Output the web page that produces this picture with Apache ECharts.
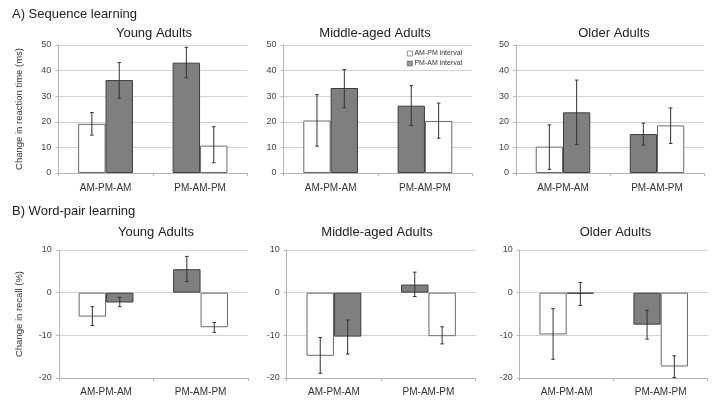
<!DOCTYPE html>
<html>
<head>
<meta charset="utf-8">
<script src="https://cdn.jsdelivr.net/npm/echarts@6/dist/echarts.min.js"></script>
<style>html,body{margin:0;padding:0;background:#fff}#c{width:714px;height:403px}</style>
</head>
<body>
<div id="c"></div>
<script>
// ---- Data ----
const categories = ['AM-PM-AM', 'PM-AM-PM'];
const legendNames = ['AM-PM interval', 'PM-AM interval'];
const panelTitles = ['Young Adults', 'Middle-aged Adults', 'Older Adults'];
const sectionTitles = ['A) Sequence learning', 'B) Word-pair learning'];
const yNames = ['Change in reaction time (ms)', 'Change in recall (%)'];
const seqTicks = [0, 10, 20, 30, 40, 50];
const wordTicks = [-20, -10, 0, 10];

// Sequence learning (ms): values per category [AM-PM-AM, PM-AM-PM]
const seqYoungAMPM = [19.2, 10.7];
const seqYoungAMPMErr = [[14.8, 23.6], [4.0, 18.1]];
const seqYoungPMAM = [36.3, 43.1];
const seqYoungPMAMErr = [[29.2, 43.2], [37.2, 49.1]];

const seqMiddleAMPM = [20.5, 20.3];
const seqMiddleAMPMErr = [[10.5, 30.6], [13.6, 27.3]];
const seqMiddlePMAM = [33.2, 26.3];
const seqMiddlePMAMErr = [[25.5, 40.4], [18.5, 34.1]];

const seqOlderAMPM = [10.3, 18.6];
const seqOlderAMPMErr = [[1.4, 18.8], [11.5, 25.4]];
const seqOlderPMAM = [23.7, 15.2];
const seqOlderPMAMErr = [[11.1, 36.3], [10.9, 19.5]];

// Word-pair learning (%)
const wordYoungAMPM = [-5.6, -8.1];
const wordYoungAMPMErr = [[-7.7, -3.3], [-9.3, -7.0]];
const wordYoungPMAM = [-2.3, 5.5];
const wordYoungPMAMErr = [[-3.3, -1.1], [2.6, 8.5]];

const wordMiddleAMPM = [-14.8, -10.2];
const wordMiddleAMPMErr = [[-18.9, -10.5], [-12.0, -8.0]];
const wordMiddlePMAM = [-10.3, 1.9];
const wordMiddlePMAMErr = [[-14.4, -6.4], [-0.9, 4.8]];

const wordOlderAMPM = [-9.8, -17.3];
const wordOlderAMPMErr = [[-15.6, -3.75], [-19.9, -14.8]];
const wordOlderPMAM = [-0.25, -7.5];
const wordOlderPMAMErr = [[-3.0, 2.4], [-10.9, -4.1]];

// ---- Layout / style ----
const WHITE = '#ffffff', GRAY = '#7f7f7f';
const BAR_FRAC = 0.29;
const FONT = '"Liberation Sans", Arial, sans-serif';

const panels = [
  {ampm: seqYoungAMPM, ampmErr: seqYoungAMPMErr, pmam: seqYoungPMAM, pmamErr: seqYoungPMAMErr, row: 0, col: 0},
  {ampm: seqMiddleAMPM, ampmErr: seqMiddleAMPMErr, pmam: seqMiddlePMAM, pmamErr: seqMiddlePMAMErr, row: 0, col: 1},
  {ampm: seqOlderAMPM, ampmErr: seqOlderAMPMErr, pmam: seqOlderPMAM, pmamErr: seqOlderPMAMErr, row: 0, col: 2},
  {ampm: wordYoungAMPM, ampmErr: wordYoungAMPMErr, pmam: wordYoungPMAM, pmamErr: wordYoungPMAMErr, row: 1, col: 0},
  {ampm: wordMiddleAMPM, ampmErr: wordMiddleAMPMErr, pmam: wordMiddlePMAM, pmamErr: wordMiddlePMAMErr, row: 1, col: 1},
  {ampm: wordOlderAMPM, ampmErr: wordOlderAMPMErr, pmam: wordOlderPMAM, pmamErr: wordOlderPMAMErr, row: 1, col: 2}
];
const gridLefts = [[58.3, 283.5, 516], [58.8, 286.7, 519.7]];
const gridWidths = [[189, 188.6, 188], [189, 189, 188]];
const gridTops = [45, 250];
const titleCenters = [[149, 370, 609], [151, 372, 610.5]];
const titleTops = [21.5, 221];

const grids = [], xAxes = [], yAxes = [], series = [], titles = [];

titles.push({text: sectionTitles[0], left: 7, top: 3, textStyle: {fontFamily: FONT, fontSize: 13, fontWeight: 'normal', color: '#222'}});
titles.push({text: sectionTitles[1], left: 7, top: 200, textStyle: {fontFamily: FONT, fontSize: 13, fontWeight: 'normal', color: '#222'}});

panels.forEach((p, i) => {
  const r = p.row, c = p.col;
  grids.push({left: gridLefts[r][c], top: gridTops[r], width: gridWidths[r][c], height: 128, containLabel: false});
  titles.push({text: panelTitles[c], left: titleCenters[r][c], top: titleTops[r], textAlign: 'center',
    textStyle: {fontFamily: FONT, fontSize: 13, fontWeight: 'normal', color: '#222'}});
  xAxes.push({type: 'category', gridIndex: i, data: categories,
    axisLine: {show: true, onZero: false, lineStyle: {color: '#b5b5b5', width: 1}},
    axisTick: {show: true, length: 3, lineStyle: {color: '#b5b5b5'}},
    axisLabel: {fontFamily: FONT, fontSize: 10, color: '#333', margin: r === 0 ? 10 : 9}});
  const ticks = r === 0 ? seqTicks : wordTicks;
  yAxes.push({type: 'value', gridIndex: i, min: ticks[0], max: ticks[ticks.length - 1], interval: 10,
    name: c === 0 ? yNames[r] : '', nameLocation: 'middle', nameGap: 34, nameRotate: 90,
    nameTextStyle: {fontFamily: FONT, fontSize: 9.5, color: '#333'},
    axisLine: {show: true, lineStyle: {color: '#b5b5b5', width: 1}},
    axisTick: {show: true, length: 3, lineStyle: {color: '#b5b5b5'}},
    axisLabel: {fontFamily: FONT, fontSize: 9, color: '#444', margin: 7},
    splitLine: {show: true, lineStyle: {color: '#d2d2d2', width: 1}}});

  // first interval of each condition is placed first in the group
  const firstVals = [p.ampm[0], p.pmam[1]];
  const firstCols = [WHITE, GRAY];
  const secondVals = [p.pmam[0], p.ampm[1]];
  const secondCols = [GRAY, WHITE];
  const mk = (vals, cols) => vals.map((v, k) => ({value: v, itemStyle: {color: cols[k], borderColor: cols[k] === WHITE ? '#6a6a6a' : '#3e3e3e', borderWidth: 1}}));
  series.push({type: 'bar', name: 'first', xAxisIndex: i, yAxisIndex: i, barWidth: (BAR_FRAC * 100) + '%', barGap: '0%',
    data: mk(firstVals, firstCols), silent: true});
  series.push({type: 'bar', name: 'second', xAxisIndex: i, yAxisIndex: i, barWidth: (BAR_FRAC * 100) + '%', barGap: '0%',
    data: mk(secondVals, secondCols), silent: true});

  const errData = [
    [0, p.ampmErr[0][0], p.ampmErr[0][1], 0],
    [0, p.pmamErr[0][0], p.pmamErr[0][1], 1],
    [1, p.pmamErr[1][0], p.pmamErr[1][1], 0],
    [1, p.ampmErr[1][0], p.ampmErr[1][1], 1]
  ];
  series.push({type: 'custom', name: 'err', xAxisIndex: i, yAxisIndex: i, silent: true, z: 5,
    encode: {x: 0, y: [1, 2]}, data: errData,
    renderItem: (params, api) => {
      const cat = api.value(0), lo = api.value(1), hi = api.value(2), slot = api.value(3);
      const band = api.size([1, 0])[0];
      const cx = api.coord([cat, 0])[0] + (slot === 0 ? -1 : 1) * band * BAR_FRAC / 2;
      const yl = api.coord([cat, lo])[1], yh = api.coord([cat, hi])[1];
      const cap = 1.8;
      const st = {stroke: '#333', lineWidth: 1};
      return {type: 'group', children: [
        {type: 'line', shape: {x1: cx, y1: yl, x2: cx, y2: yh}, style: st},
        {type: 'line', shape: {x1: cx - cap, y1: yl, x2: cx + cap, y2: yl}, style: st},
        {type: 'line', shape: {x1: cx - cap, y1: yh, x2: cx + cap, y2: yh}, style: st}
      ]};
    }});
});

// legend carriers (no data)
series.push({type: 'scatter', name: legendNames[0], xAxisIndex: 1, yAxisIndex: 1, data: [], itemStyle: {color: WHITE, borderColor: '#555', borderWidth: 0.8}});
series.push({type: 'scatter', name: legendNames[1], xAxisIndex: 1, yAxisIndex: 1, data: [], itemStyle: {color: GRAY, borderColor: '#555', borderWidth: 0.8}});

const chart = echarts.init(document.getElementById('c'), null, {renderer: 'canvas'});
chart.setOption({
  animation: false,
  backgroundColor: '#fff',
  title: titles,
  grid: grids,
  xAxis: xAxes,
  yAxis: yAxes,
  legend: {
    data: [
      {name: legendNames[0], icon: 'rect', itemStyle: {color: WHITE, borderColor: '#555', borderWidth: 0.8}},
      {name: legendNames[1], icon: 'rect', itemStyle: {color: GRAY, borderColor: '#555', borderWidth: 0.8}}
    ],
    orient: 'vertical', left: 407, top: 50, itemWidth: 5, itemHeight: 5, itemGap: 3, padding: 0,
    textStyle: {fontFamily: FONT, fontSize: 7, color: '#333', padding: [0, 0, 0, -3]},
    selectedMode: false
  },
  series: series
});
</script>
</body>
</html>
